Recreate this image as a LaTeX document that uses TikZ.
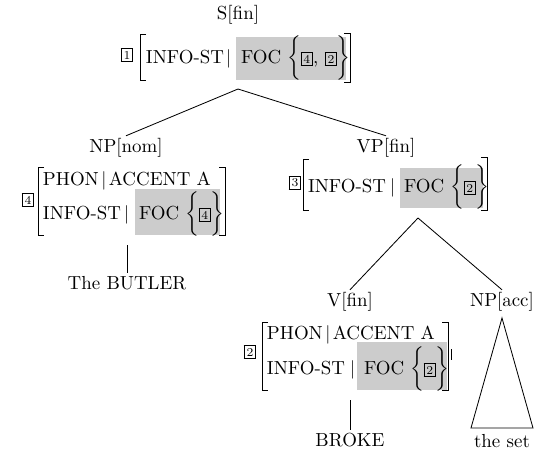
\documentclass[tikz,border=0pt]{standalone}
\newcommand{\tg}[1]{{\setlength{\fboxsep}{0.9pt}\setlength{\fboxrule}{0.65pt}\fbox{\fontsize{6.5}{6.5}\selectfont #1}}}
\newcommand{\focset}[1]{FOC\kern3.5pt$\bigg\{$\kern-0.5pt#1\kern-0.5pt$\bigg\}$}
\begin{document}
\begin{tikzpicture}[x=0.54pt,y=-0.54pt,
  font=\fontsize{10.2}{12}\selectfont,
  every node/.style={inner sep=0pt, outer sep=0pt},
  txt/.style={anchor=base west},
  lbl/.style={anchor=center, outer sep=1.5pt},
  brk/.style={line width=0.5pt},
  focbg/.style={fill=black!20, draw=none},
  branch/.style={line width=0.45pt}]
\useasboundingbox (0,0) rectangle (540,451);

% ---------- S ----------
\node[lbl] (s) at (238,15) {S[fin]};
\node (t1) at (127,55) {\tg{1}};
\fill[focbg] (236,37) rectangle (346,80);
\draw[brk] (146,34) -| (140,80) -- (146,80);
\draw[brk] (344,33) -| (350,82) -- (344,82);
\node[txt] (sinfo) at (146,63) {INFO-ST};
\node[txt] (sbar) at (226,63) {$|$};
\node[txt] (sfoc) at (241,63) {\focset{\tg{4}, \tg{2}}};
\coordinate (sbot) at (238,89);

% ---------- NP[nom] ----------
\node[lbl] (np) at (126,148) {NP[nom]};
\node (t4) at (28,200) {\tg{4}};
\fill[focbg] (135,189) rectangle (220,235);
\draw[brk] (44,167) -| (38,235) -- (44,235);
\draw[brk] (219,167) -| (225,235) -- (219,235);
\node[txt] (npphon) at (43,185) {PHON\kern1.3pt$|$\kern1.3ptACCENT A};
\node[txt] (npinfo) at (43,219) {INFO-ST};
\node[txt] (npbar) at (124,219) {$|$};
\node[txt] (npfoc) at (139,219) {\focset{\tg{4}}};
\coordinate (npbot) at (127,245);
\node[lbl] (butler) at (127,283) {The BUTLER};

% ---------- VP[fin] ----------
\node[lbl] (vp) at (386,148) {VP[fin]};
\node (t3) at (295,183) {\tg{3}};
\fill[focbg] (400,168) rectangle (483,208);
\draw[brk] (309,159) -| (303,210) -- (309,210);
\draw[brk] (481,157) -| (487,210) -- (481,210);
\node[txt] (vpinfo) at (308,192) {INFO-ST};
\node[txt] (vpbar) at (390,192) {$|$};
\node[txt] (vpfoc) at (404,192) {\focset{\tg{2}}};
\coordinate (vpbot) at (418,218);

% ---------- V[fin] ----------
\node[lbl] (v) at (350,302) {V[fin]};
\node (t2) at (250,352) {\tg{2}};
\fill[focbg] (357,342) rectangle (447,390);
\draw[brk] (268,322) -| (262,390) -- (268,390);
\draw[brk] (442,322) -| (448,390) -- (442,390);
\draw[brk] (451,349) -- (451,360);
\node[txt] (vphon) at (267,339) {PHON\kern1.3pt$|$\kern1.3ptACCENT A};
\node[txt] (vinfo) at (267,374) {INFO-ST};
\node[txt] (vbar) at (350,374) {$|$};
\node[txt] (vfoc) at (364,374) {\focset{\tg{2}}};
\coordinate (vbot) at (350,400);
\node[lbl] (broke) at (350,440) {BROKE};

% ---------- NP[acc] ----------
\node[lbl] (npacc) at (502,302) {NP[acc]};
\coordinate (apex) at (502,318);
\coordinate (bl) at (471,428);
\coordinate (br) at (533,428);
\node[lbl] (theset) at (502,441) {the set};

% ---------- branches ----------
\draw[branch] (sbot) -- (np.north);
\draw[branch] (sbot) -- (vp.north);
\draw[branch] (npbot) -- (butler.north);
\draw[branch] (vpbot) -- (v.north);
\draw[branch] (vpbot) -- (npacc.north);
\draw[branch] (vbot) -- (broke.north);
\draw[branch] (apex) -- (bl) -- (br) -- cycle;
\end{tikzpicture}
\end{document}
